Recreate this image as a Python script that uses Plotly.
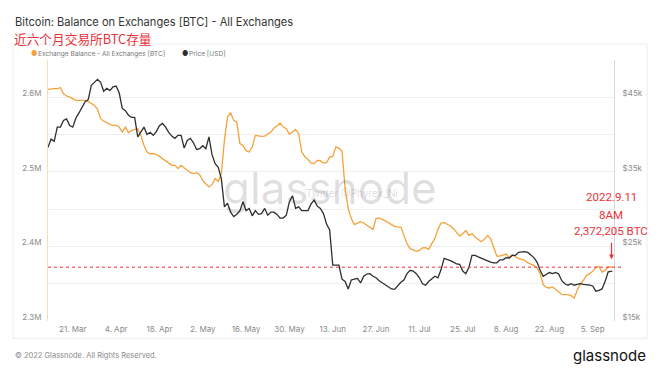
import pandas as pd
import numpy as np
import plotly.graph_objects as go

# ---- data ----
start_date = "2022-03-13"
# Exchange balance, thousands of BTC, daily from 13 Mar 2022 (last point 11 Sep 08:00)
balance_kbtc = [
    2610.6, 2611.5, 2611.5, 2611.5, 2612.9, 2604.8, 2601.7, 2600.3, 2598.1, 2595.8,
    2595.8, 2595.8, 2595.8, 2594.5, 2591.4, 2589.1, 2583.8, 2571.3, 2568.1, 2565.5,
    2563.7, 2562.3, 2562.3, 2560.1, 2553.4, 2560.1, 2552.5, 2555.6, 2557.0, 2557.9,
    2548.9, 2535.5, 2526.6, 2524.3, 2524.3, 2523.5, 2520.8, 2517.7, 2514.1, 2511.0,
    2508.8, 2508.8, 2504.3, 2508.8, 2505.2, 2502.0, 2498.9,
    2497.6, 2498.9, 2496.2, 2488.6, 2484.1, 2479.7, 2482.8, 2490.9, 2487.3, 2497.6,
    2542.2, 2573.5, 2579.3, 2569.0, 2566.8, 2537.8, 2535.5, 2528.4, 2526.6, 2533.3,
    2548.9, 2548.0, 2547.6, 2548.0, 2550.3, 2553.4, 2558.8, 2561.4, 2565.5, 2560.1,
    2557.9, 2550.3, 2553.4, 2557.0, 2551.2, 2526.6, 2520.3, 2516.8, 2511.8, 2511.0,
    2515.4, 2515.0, 2511.8, 2512.3, 2519.8,
    2520.8, 2533.3, 2531.9, 2527.5, 2477.5, 2450.7, 2437.3, 2429.2, 2431.4, 2433.2,
    2431.4, 2428.3, 2425.2, 2422.9, 2437.3, 2438.1, 2436.3, 2434.5, 2431.9, 2429.2,
    2426.9, 2426.0, 2426.0, 2414.8, 2403.7, 2397.0, 2395.2, 2393.4, 2394.7, 2397.9,
    2398.3, 2396.1, 2403.7, 2410.8, 2422.9, 2431.4, 2431.9, 2430.1, 2427.4, 2423.8,
    2419.4, 2414.0, 2417.1, 2421.2, 2414.8,
    2417.1, 2412.6, 2409.5, 2406.4, 2409.5, 2414.8, 2410.4, 2399.2, 2387.1, 2387.1,
    2388.5, 2389.8, 2384.9, 2389.0, 2386.3, 2383.6, 2382.7, 2381.4, 2377.8, 2376.0,
    2374.7, 2371.5, 2363.5, 2348.7, 2345.2, 2344.3, 2345.6, 2342.5, 2338.5, 2335.7,
    2335.3, 2335.3, 2334.0, 2330.9, 2341.1, 2350.1, 2354.6, 2361.3, 2363.5, 2366.6,
    2372.0, 2373.3, 2365.7, 2367.9, 2372.4, 2372.205,
]
# BTC price, thousands of USD
price_kusd = [
    38.3, 39.4, 39.1, 41.0, 41.0, 41.9, 42.1, 41.2, 41.0, 42.2,
    42.9, 43.7, 44.4, 44.7, 46.6, 47.0, 47.4, 47.0, 45.8, 46.2,
    45.9, 46.4, 46.5, 45.6, 43.5, 43.2, 42.6, 42.3, 42.3, 39.7,
    40.4, 41.0, 40.0, 40.3, 39.9, 40.4, 41.2, 41.5, 41.0, 40.3,
    39.8, 39.5, 39.9, 39.9, 38.2, 39.2, 39.5,
    38.9, 38.0, 38.1, 38.5, 38.1, 39.7, 37.3, 36.1, 35.6, 34.1,
    30.3, 30.8, 29.6, 29.0, 29.3, 29.8, 31.0, 29.8, 30.1, 29.1,
    29.8, 29.3, 29.4, 30.1, 29.2, 29.6, 29.6, 29.3, 28.8, 28.8,
    29.2, 31.0, 31.8, 30.1, 30.3, 29.8, 29.8, 29.8, 30.7, 31.2,
    30.4, 30.1, 29.4, 28.0, 27.2,
    22.5, 22.5, 22.5, 20.6, 20.3, 19.3, 20.5, 20.6, 20.7, 20.1,
    21.0, 21.3, 21.35, 21.0, 20.8, 20.4, 20.1, 19.9, 19.6, 19.3,
    19.25, 19.8, 20.2, 20.5, 21.35, 21.8, 21.7, 21.35, 20.8, 20.0,
    19.8, 20.3, 20.7, 21.0, 20.8, 21.9, 23.4, 23.3, 23.1, 22.9,
    22.65, 22.6, 21.7, 21.35, 22.2,
    23.8, 23.8, 23.6, 23.4, 23.2, 23.0, 22.9, 22.8, 22.8, 23.2,
    23.2, 23.5, 23.45, 23.8, 23.8, 24.2, 24.3, 24.3, 24.2, 23.9,
    23.5, 22.9, 21.8, 21.0, 21.3, 21.5, 21.35, 21.5, 21.3, 20.4,
    20.0, 19.8, 20.0, 19.8, 19.9, 20.0, 19.9, 19.9, 19.8, 19.7,
    19.0, 19.1, 19.3, 20.3, 21.6, 21.7,
]
latest_balance = 2372205
latest_label = ["2022.9.11", "8AM", "2,372,205 BTC"]
left_ticks = [2300000, 2400000, 2500000, 2600000]
left_ticktext = ["2.3M", "2.4M", "2.5M", "2.6M"]
right_ticks = [15, 25, 35, 45]
right_ticktext = ["$15k", "$25k", "$35k", "$45k"]
series_names = ["Exchange Balance - All Exchanges [BTC]", "Price [USD]"]

n = len(balance_kbtc)
dates = list(pd.date_range(start_date, periods=n, freq="D"))
dates[-1] = pd.Timestamp("2022-09-11 08:00")
balance = np.array(balance_kbtc) * 1000

ORANGE = "#f4a23c"
DARK = "#2e2e2e"
RED = "#e8323a"
GRAY = "#8a8a8a"

# page body has an 8px margin -> figure is 652x364 and shifted by 8px
OFF = 8
W, H = 660 - OFF, 372 - OFF
# plot area in reference pixel coords
L, R, T, B = 48, 614, 60, 320.7
def px(x):
    return (x - L) / (R - L)
def py(y):
    return (B - y) / (B - T)

fig = go.Figure()
fig.add_trace(go.Scatter(x=dates, y=balance, mode="lines", name=series_names[0],
                         line=dict(color=ORANGE, width=1.3), yaxis="y"))
fig.add_trace(go.Scatter(x=dates, y=price_kusd, mode="lines", name=series_names[1],
                         line=dict(color=DARK, width=1.3), yaxis="y2"))

fig.update_layout(
    width=W, height=H,
    margin=dict(l=L - OFF, r=W - (R - OFF), t=T - OFF, b=H - (B - OFF), pad=0),
    paper_bgcolor="white", plot_bgcolor="white",
    showlegend=False,
    font=dict(family="Inter, Roboto, sans-serif", color=GRAY, size=8),
    xaxis=dict(
        type="date",
        range=[pd.Timestamp(start_date), pd.Timestamp(start_date) + pd.Timedelta(days=(R - L) / 3.095)],
        tick0="2022-03-21", dtick=14 * 86400000, tickformat="%-d. %b",
        showgrid=False, zeroline=False, showline=False,
        ticks="outside", ticklen=0, tickcolor="rgba(0,0,0,0)",
        tickfont=dict(size=8, color=GRAY),
    ),
    yaxis=dict(
        range=[2300000, 2650000], tickvals=left_ticks, ticktext=left_ticktext,
        showgrid=True, gridcolor="#efefef", gridwidth=1,
        minor=dict(dtick=50000, tick0=2300000, showgrid=True, gridcolor="#efefef"),
        zeroline=False, showline=True, linecolor="#fbdcb6", linewidth=1,
        ticks="outside", ticklen=4, tickcolor="rgba(0,0,0,0)",
        ticklabelshift=-4, tickfont=dict(size=8, color=GRAY),
    ),
    yaxis2=dict(
        range=[15, 50], tickvals=right_ticks, ticktext=right_ticktext,
        overlaying="y", side="right", showgrid=False, zeroline=False,
        showline=True, linecolor="#d8d8d8", linewidth=1,
        ticks="outside", ticklen=6, tickcolor="rgba(0,0,0,0)",
        ticklabelshift=-4, tickfont=dict(size=8, color=GRAY),
    ),
)

shapes = [
    # outer light frame
    dict(type="rect", xref="paper", yref="paper", x0=px(13), x1=px(647), y0=py(338), y1=py(44),
         line=dict(color="#ececec", width=1), fillcolor="rgba(0,0,0,0)", layer="below"),
    # latest value dashed line
    dict(type="line", xref="paper", yref="y", x0=0, x1=px(623), y0=latest_balance, y1=latest_balance,
         line=dict(color=RED, width=1, dash="3px,3px")),
]
fig.update_layout(shapes=shapes)

ann = []
# watermark
ann.append(dict(x=px(330), y=py(188), xref="paper", yref="paper", text="glassnode", showarrow=False,
                font=dict(family="Inter, sans-serif", size=44, color="rgba(0,0,0,0.13)"),
                xanchor="center", yanchor="middle"))
ann.append(dict(x=px(352), y=py(193), xref="paper", yref="paper", text="Twitter @Phyrex_Ni", showarrow=False,
                font=dict(family="Inter, sans-serif", size=10, color="rgba(0,0,0,0.16)"),
                xanchor="center", yanchor="middle"))
# title + subtitle
ann.append(dict(x=px(13), y=py(22), xref="paper", yref="paper", text="Bitcoin: Balance on Exchanges [BTC] - All Exchanges",
                showarrow=False, xanchor="left", yanchor="middle",
                font=dict(family="Inter, sans-serif", size=11.1, color="#333333")))
ann.append(dict(x=px(12), y=py(39), xref="paper", yref="paper", text="近六个月交易所BTC存量",
                showarrow=False, xanchor="left", yanchor="middle",
                font=dict(family="Noto Sans CJK SC", size=12.7, color=RED)))
# legend
ann.append(dict(x=px(29), y=py(54), xref="paper", yref="paper", text="●", showarrow=False,
                xanchor="left", yanchor="middle", font=dict(size=7, color=ORANGE)))
ann.append(dict(x=px(36), y=py(54), xref="paper", yref="paper", text=series_names[0], showarrow=False,
                xanchor="left", yanchor="middle", font=dict(family="Inter, sans-serif", size=6.6, color="#777777")))
ann.append(dict(x=px(180), y=py(54), xref="paper", yref="paper", text="●", showarrow=False,
                xanchor="left", yanchor="middle", font=dict(size=7, color=DARK)))
ann.append(dict(x=px(187), y=py(54), xref="paper", yref="paper", text=series_names[1], showarrow=False,
                xanchor="left", yanchor="middle", font=dict(family="Inter, sans-serif", size=6.6, color="#777777")))
# latest value callout
for txt, yy in zip(latest_label, [197, 215, 231]):
    ann.append(dict(x=px(611), y=py(yy), xref="paper", yref="paper", text=txt, showarrow=False,
                    xanchor="center", yanchor="middle",
                    font=dict(family="Roboto, sans-serif", size=11.5, color=RED)))
ann.append(dict(x=px(611.5), y=py(259), xref="paper", yref="paper", text="", showarrow=True,
                ax=0, ay=-18, arrowhead=2, arrowsize=0.8, arrowwidth=1.2, arrowcolor=RED))
# footer
ann.append(dict(x=px(13), y=py(355), xref="paper", yref="paper", text="© 2022 Glassnode. All Rights Reserved.",
                showarrow=False, xanchor="left", yanchor="middle",
                font=dict(family="Inter, sans-serif", size=7.5, color="#8a8a8a")))
ann.append(dict(x=px(648), y=py(355), xref="paper", yref="paper", text="glassnode", showarrow=False,
                xanchor="right", yanchor="middle",
                font=dict(family="Inter, sans-serif", size=15, color="#111111")))
fig.update_layout(annotations=ann)

fig.write_html("out.html")
